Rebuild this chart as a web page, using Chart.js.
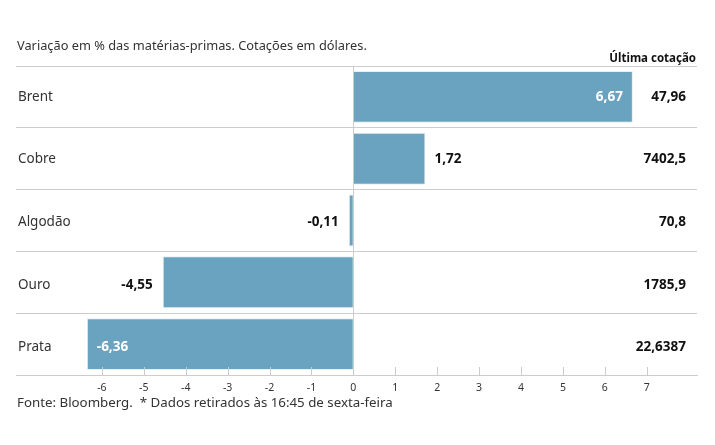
<!DOCTYPE html>
<html>
<head>
  <script src="https://cdnjs.cloudflare.com/ajax/libs/Chart.js/4.4.1/chart.umd.min.js"></script>
  <style>
    body {
      margin: 0;
      background: white;
      font-family: "Noto Sans", sans-serif;
    }
    #wrap {
      position: relative;
      width: 715px;
      height: 445px;
    }
  </style>
</head>
<body>
  <div id="wrap"><canvas id="chart" width="715" height="445"></canvas></div>

  <script>
    const commodities = ['Brent', 'Cobre', 'Algodão', 'Ouro', 'Prata'];
    const changes = [6.67, 1.72, -0.11, -4.55, -6.36];
    const lastQuotes = ['47,96', '7402,5', '70,8', '1785,9', '22,6387'];
    const xTicks = [-6, -5, -4, -3, -2, -1, 0, 1, 2, 3, 4, 5, 6, 7];

    const FONT = '"Noto Sans", sans-serif';
    const fmt = v => v.toFixed(2).replace('.', ',');

    // text around the plot: titles, row names, value labels, quotes, axis ticks
    const extras = {
      id: 'extras',
      afterDraw(chart) {
        const c = chart.ctx;
        const x = chart.scales.x, y = chart.scales.y;
        const area = chart.chartArea;
        c.save();

        c.fillStyle = '#333';
        c.font = '12.8px ' + FONT;
        c.textAlign = 'left';
        c.textBaseline = 'alphabetic';
        c.fillText('Variação em % das matérias-primas. Cotações em dólares.', 17, 50);
        c.font = '13.3px ' + FONT;
        c.fillText('Fonte: Bloomberg.  * Dados retirados às 16:45 de sexta-feira', 17, 407);

        c.fillStyle = '#111';
        c.font = 'bold 11.5px ' + FONT;
        c.textAlign = 'right';
        c.fillText('Última cotação', 696, 62);

        // small tick marks rising from the axis line
        c.strokeStyle = '#ccc';
        c.lineWidth = 1;
        xTicks.forEach(v => {
          const px = Math.round(x.getPixelForValue(v)) + 0.5;
          c.beginPath();
          c.moveTo(px, area.bottom - 8);
          c.lineTo(px, area.bottom);
          c.stroke();
        });

        c.fillStyle = '#333';
        c.font = '10.5px ' + FONT;
        c.textAlign = 'center';
        c.textBaseline = 'middle';
        xTicks.forEach(v => {
          c.fillText(String(v), x.getPixelForValue(v), area.bottom + 13);
        });

        const meta = chart.getDatasetMeta(0);
        commodities.forEach((name, i) => {
          const cy = y.getPixelForValue(i) + i * 0.8;
          c.textBaseline = 'middle';

          c.fillStyle = '#333';
          c.font = '13.5px ' + FONT;
          c.textAlign = 'left';
          c.fillText(name, 18, cy);

          c.fillStyle = '#111';
          c.font = 'bold 13.5px ' + FONT;
          c.textAlign = 'right';
          c.fillText(lastQuotes[i], 686, cy);

          const v = changes[i];
          const end = meta.data[i].x;
          const inside = Math.abs(v) > 6;
          c.font = 'bold 13.5px ' + FONT;
          if (v >= 0) {
            if (inside) {
              c.fillStyle = '#fff';
              c.textAlign = 'right';
              c.fillText(fmt(v), end - 10, cy);
            } else {
              c.fillStyle = '#111';
              c.textAlign = 'left';
              c.fillText(fmt(v), end + 9, cy);
            }
          } else {
            if (inside) {
              c.fillStyle = '#fff';
              c.textAlign = 'left';
              c.fillText(fmt(v), end + 10, cy);
            } else {
              c.fillStyle = '#111';
              c.textAlign = 'right';
              c.fillText(fmt(v), end - 10, cy);
            }
          }
        });
        c.restore();
      }
    };

    new Chart(document.getElementById('chart'), {
      type: 'bar',
      data: {
        labels: commodities,
        datasets: [{
          data: changes,
          backgroundColor: '#6aa3bf',
          borderColor: '#e6f0f5',
          borderWidth: 1,
          barPercentage: 0.84,
          categoryPercentage: 1
        }]
      },
      options: {
        indexAxis: 'y',
        responsive: false,
        animation: false,
        layout: { padding: { left: 16, right: 18, top: 66, bottom: 70 } },
        plugins: { legend: { display: false }, tooltip: { enabled: false } },
        scales: {
          x: {
            min: -8.05,
            max: 8.2,
            afterBuildTicks: s => { s.ticks = xTicks.map(v => ({ value: v })); },
            ticks: { display: false },
            border: { display: true, color: '#ccc' },
            grid: {
              drawTicks: false,
              color: ctx => ctx.tick && ctx.tick.value === 0 ? '#ccc' : 'transparent'
            }
          },
          y: {
            ticks: { display: false },
            border: { display: false },
            grid: { offset: true, drawTicks: false, color: '#ccc' }
          }
        }
      },
      plugins: [extras]
    });
  </script>
</body>
</html>
